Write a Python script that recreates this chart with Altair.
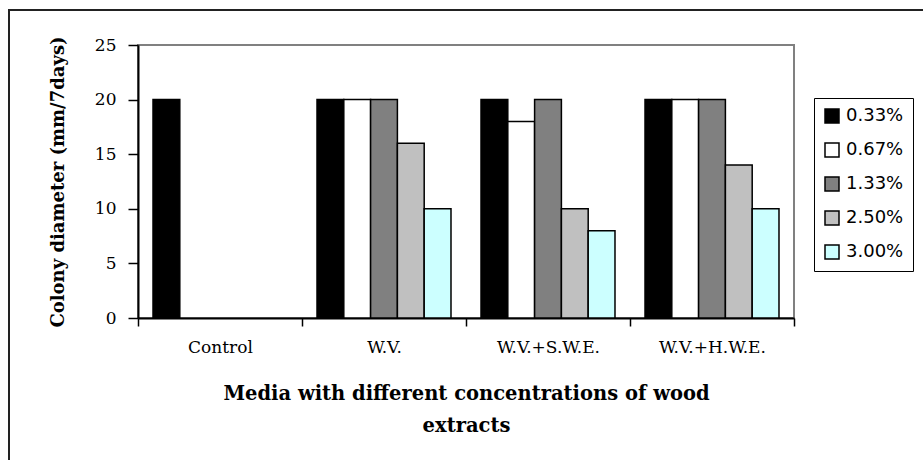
import altair as alt
import pandas as pd

categories = ["Control", "W.V.", "W.V.+S.W.E.", "W.V.+H.W.E."]
concentrations = ["0.33%", "0.67%", "1.33%", "2.50%", "3.00%"]
control = [20, None, None, None, None]
wv = [20, 20, 20, 16, 10]
wv_swe = [20, 18, 20, 10, 8]
wv_hwe = [20, 20, 20, 14, 10]
colors = ["#000000", "#FFFFFF", "#808080", "#C0C0C0", "#CCFFFF"]

rows = []
for cat, vals in zip(categories, [control, wv, wv_swe, wv_hwe]):
    for conc, v in zip(concentrations, vals):
        if v is not None:
            rows.append({"media": cat, "conc": conc, "value": v})
df = pd.DataFrame(rows)

SERIF = "DejaVu Serif"
SANS = "DejaVu Sans"

bars = alt.Chart(df).mark_bar(stroke="black", strokeWidth=1.5).encode(
    x=alt.X(
        "media:N",
        sort=categories,
        scale=alt.Scale(domain=categories, paddingInner=0, paddingOuter=0),
        axis=alt.Axis(
            title=["Media with different concentrations of wood", "extracts"],
            titleFont=SERIF,
            titleFontSize=19.5,
            titleFontWeight="bold",
            titleColor="black",
            titleLineHeight=32,
            titleBaseline="alphabetic",
            titleY=81,
            labelAngle=0,
            labelFont=SERIF,
            labelFontSize=17,
            labelColor="black",
            labelPadding=13,
            tickBand="extent",
            tickSize=8,
            tickColor="black",
            tickWidth=1.5,
            domainColor="black",
            domainWidth=2,
        ),
    ),
    xOffset=alt.XOffset(
        "conc:N",
        scale=alt.Scale(domain=concentrations, paddingInner=0, paddingOuter=0.56),
    ),
    y=alt.Y(
        "value:Q",
        scale=alt.Scale(domain=[0, 25], nice=False),
        axis=alt.Axis(
            title="Colony diameter (mm/7days)",
            titleFont=SERIF,
            titleFontSize=18,
            titleFontWeight="bold",
            titleColor="black",
            titleAngle=270,
            titleBaseline="alphabetic",
            titleAlign="center",
            titleX=-75,
            titleY=136.5,
            values=[0, 5, 10, 15, 20, 25],
            labelFont=SERIF,
            labelFontSize=17,
            labelColor="black",
            labelPadding=12,
            tickSize=10,
            tickColor="black",
            tickWidth=1.5,
            domainColor="black",
            domainWidth=2,
            grid=False,
        ),
    ),
    fill=alt.Fill(
        "conc:N",
        scale=alt.Scale(domain=concentrations, range=colors),
        legend=alt.Legend(
            title=None,
            orient="none",
            legendX=676,
            legendY=53,
            strokeColor="black",
            fillColor="white",
            padding=9,
            symbolType="square",
            symbolSize=196,
            symbolStrokeColor="black",
            symbolStrokeWidth=1.5,
            labelFont=SANS,
            labelFontSize=18,
            labelColor="black",
            labelOffset=5,
            rowPadding=14,
        ),
    ),
)

frame = alt.Chart(pd.DataFrame({"a": [0]})).mark_rect(
    fillOpacity=0, stroke="#222222", strokeWidth=2
).encode(
    x=alt.value(-129), x2=alt.value(900), y=alt.value(-35), y2=alt.value(500)
)

chart = alt.layer(frame, bars).properties(
    width=656,
    height=273,
    autosize=alt.AutoSizeParams(type="none"),
    padding={"left": 138, "top": 45, "right": 129, "bottom": 142},
    background="white",
).configure_view(stroke="#808080", strokeWidth=2)

chart.save("out.html", embed_options={"renderer": "svg", "actions": False})
